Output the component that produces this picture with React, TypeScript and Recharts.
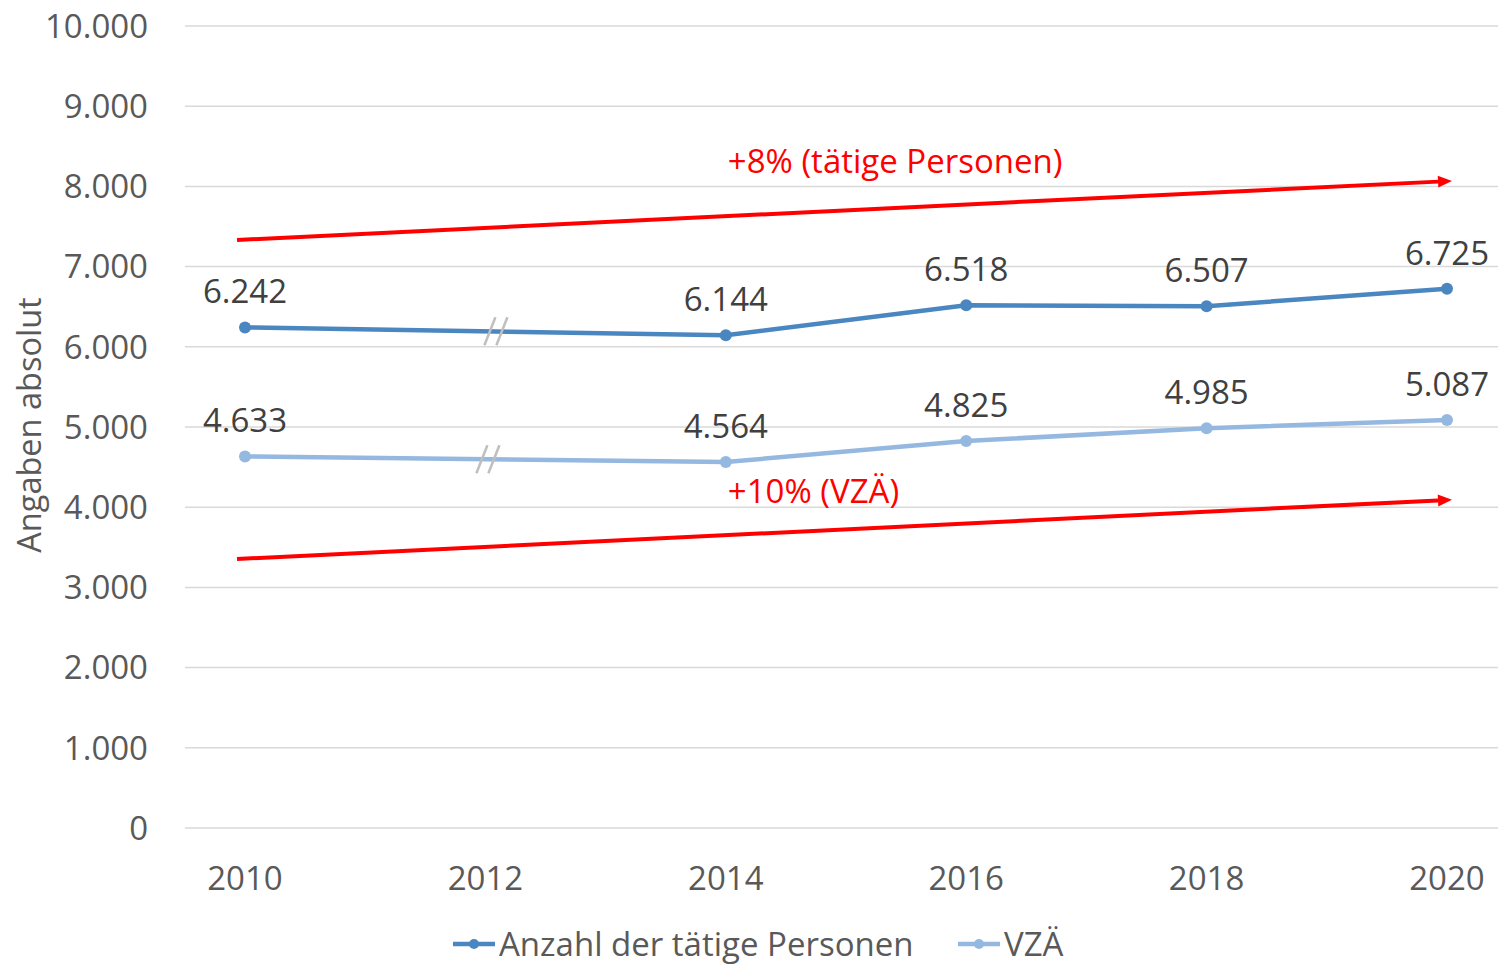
import React from 'react'
import {
  LineChart,
  Line,
  XAxis,
  YAxis,
  CartesianGrid,
  Legend,
  LabelList,
  ReferenceLine,
  ReferenceDot,
} from 'recharts'

const FONT = '"Open Sans", sans-serif'

const years = ['2010', '2012', '2014', '2016', '2018', '2020']
// 2012: kein Wert, Linie wird durchgezogen (Bruchzeichen)
const personen = [6242, null, 6144, 6518, 6507, 6725]
const vzae = [4633, null, 4564, 4825, 4985, 5087]
const yTicks = [0, 1000, 2000, 3000, 4000, 5000, 6000, 7000, 8000, 9000, 10000]

// Trendpfeile: Wert bei 2010 und bei 2020
const trendPersonen = [7337, 8065]
const trendVzae = [3359, 4090]
const trendTexts = ['+8% (tätige Personen)', '+10% (VZÄ)']
const trendTextY = [8167, 4052]

const seriesNames = ['Anzahl der tätige Personen', 'VZÄ']
const colors = ['#4A86BF', '#95B8E0']

const data = years.map((year, i) => ({ year, personen: personen[i], vzae: vzae[i] }))

const fmt = (v: number) => String(v).replace(/\B(?=(\d{3})+(?!\d))/g, '.')

const gapY = (arr: (number | null)[]) => ((arr[0] as number) + (arr[2] as number)) / 2

const Arrow = (p: any) => {
  const { x1, y1, x2, y2 } = p
  const slope = (y2 - y1) / (x2 - x1)
  const sx = x1 - 8
  const sy = y1 - 8 * slope
  const tx = x2 + 5
  const ty = y2 + 5 * slope
  const ang = Math.atan2(ty - sy, tx - sx)
  const len = 14
  const half = 6
  const bx = tx - len * Math.cos(ang)
  const by = ty - len * Math.sin(ang)
  const pts = [
    `${tx},${ty}`,
    `${bx - half * Math.sin(ang)},${by + half * Math.cos(ang)}`,
    `${bx + half * Math.sin(ang)},${by - half * Math.cos(ang)}`,
  ].join(' ')
  return (
    <g>
      <line x1={sx} y1={sy} x2={bx} y2={by} stroke="#ff0000" strokeWidth={4} />
      <polygon points={pts} fill="#ff0000" />
    </g>
  )
}

const breakMark = (dx: number) => (p: any) => {
  const cx = p.cx + dx
  const cy = p.cy
  return (
    <g stroke="#bfbfbf" strokeWidth={2.5}>
      <line x1={cx - 12} y1={cy + 14} x2={cx - 1} y2={cy - 14} />
      <line x1={cx} y1={cy + 14} x2={cx + 11} y2={cy - 14} />
    </g>
  )
}

const trendText = (text: string) => (p: any) => (
  <text x={p.cx + 2} y={p.cy} fill="#ff0000" fontSize={33} fontFamily={FONT} textAnchor="start">
    {text}
  </text>
)

const pointLabel = (p: any) => {
  if (p.value == null) return <g />
  return (
    <text x={p.x} y={p.y - 24} fill="#404040" fontSize={33} fontFamily={FONT} textAnchor="middle">
      {fmt(p.value)}
    </text>
  )
}

const YLabel = () => (
  <text
    x={28}
    y={425}
    transform="rotate(-90, 28, 425)"
    textAnchor="middle"
    dominantBaseline="central"
    fill="#595959"
    fontSize={32.5}
    fontFamily={FONT}
  >
    Angaben absolut
  </text>
)

const LegendIcon = ({ color }: { color: string }) => (
  <svg width={42} height={14} style={{ display: 'block' }}>
    <line x1={0} y1={7} x2={42} y2={7} stroke={color} strokeWidth={4.5} />
    <circle cx={21} cy={7} r={5} fill={color} />
  </svg>
)

const LegendContent = () => (
  <div style={{ position: 'relative', height: 42, fontFamily: FONT, fontSize: 33, color: '#595959' }}>
    {seriesNames.map((name, i) => (
      <div
        key={name}
        style={{
          position: 'absolute',
          left: i === 0 ? 453 : 958,
          top: 0,
          height: 42,
          display: 'flex',
          alignItems: 'center',
          whiteSpace: 'nowrap',
        }}
      >
        <LegendIcon color={colors[i]} />
        <span style={{ marginLeft: 4, lineHeight: '42px' }}>{name}</span>
      </div>
    ))}
  </div>
)

export default function App() {
  return (
    <div style={{ position: 'absolute', left: 0, top: 0, background: '#fff' }}>
      <LineChart
        width={1498}
        height={967}
        data={data}
        margin={{ top: 26, right: 0, bottom: 0, left: 0 }}
        style={{ fontFamily: FONT }}
      >
        <CartesianGrid vertical={false} stroke="#d9d9d9" strokeWidth={1.5} />
        <XAxis
          dataKey="year"
          padding={{ left: 60, right: 51 }}
          axisLine={false}
          tickLine={false}
          tickSize={0}
          tickMargin={39}
          height={139}
          tick={{ fill: '#595959', fontSize: 33, fontFamily: FONT }}
        />
        <YAxis
          domain={[0, 10000]}
          ticks={yTicks}
          tickFormatter={fmt}
          width={185}
          axisLine={false}
          tickLine={false}
          tickSize={0}
          tickMargin={37}
          tick={{ fill: '#595959', fontSize: 33, fontFamily: FONT }}
          label={{ content: <YLabel /> }}
        />
        <Legend
          layout="horizontal"
          verticalAlign="middle"
          align="center"
          wrapperStyle={{ top: 923, left: 0, width: 1498 }}
          content={<LegendContent />}
        />

        <ReferenceLine
          segment={[
            { x: years[0], y: trendPersonen[0] },
            { x: years[years.length - 1], y: trendPersonen[1] },
          ]}
          shape={Arrow}
        />
        <ReferenceLine
          segment={[
            { x: years[0], y: trendVzae[0] },
            { x: years[years.length - 1], y: trendVzae[1] },
          ]}
          shape={Arrow}
        />
        <ReferenceDot x="2014" y={trendTextY[0]} r={0} shape={trendText(trendTexts[0])} />
        <ReferenceDot x="2014" y={trendTextY[1]} r={0} shape={trendText(trendTexts[1])} />

        <Line
          type="linear"
          dataKey="personen"
          name={seriesNames[0]}
          stroke={colors[0]}
          strokeWidth={4.5}
          dot={{ r: 6, fill: colors[0], stroke: colors[0], strokeWidth: 0 }}
          activeDot={false}
          connectNulls
          isAnimationActive={false}
        >
          <LabelList dataKey="personen" content={pointLabel} />
        </Line>
        <Line
          type="linear"
          dataKey="vzae"
          name={seriesNames[1]}
          stroke={colors[1]}
          strokeWidth={4.5}
          dot={{ r: 6, fill: colors[1], stroke: colors[1], strokeWidth: 0 }}
          activeDot={false}
          connectNulls
          isAnimationActive={false}
        >
          <LabelList dataKey="vzae" content={pointLabel} />
        </Line>

        <ReferenceDot x="2012" y={gapY(personen)} r={0} shape={breakMark(11)} />
        <ReferenceDot x="2012" y={gapY(vzae)} r={0} shape={breakMark(3)} />
      </LineChart>
    </div>
  )
}
